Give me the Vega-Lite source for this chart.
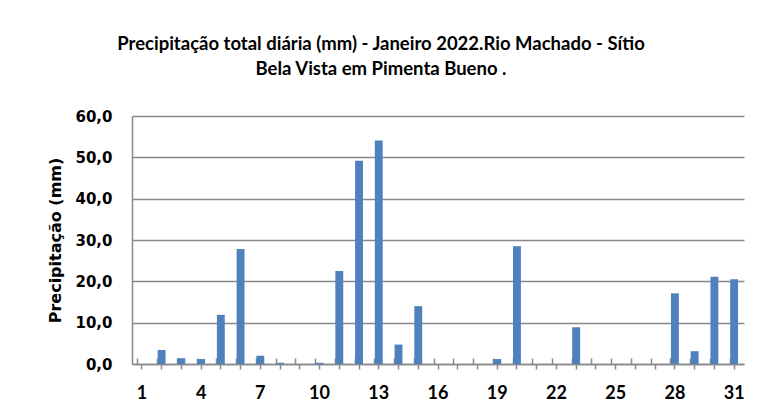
{
  "$schema": "https://vega.github.io/schema/vega-lite/v6.json",
  "autosize": {"type": "none"},
  "width": 612,
  "height": 248,
  "padding": {"left": 132, "top": 116, "right": 19, "bottom": 49},
  "background": "white",
  "title": {
    "text": ["Precipitação total diária (mm) - Janeiro 2022.Rio Machado - Sítio", "Bela Vista em Pimenta Bueno ."],
    "anchor": "middle",
    "frame": "group",
    "dx": -57,
    "font": "Lato",
    "fontSize": 18.5,
    "fontWeight": "bold",
    "color": "#000000",
    "lineHeight": 25,
    "offset": 31
  },
  "data": {
    "values": [
      {"dia": 1, "prec": 0.0},
      {"dia": 2, "prec": 3.4},
      {"dia": 3, "prec": 1.4},
      {"dia": 4, "prec": 1.2},
      {"dia": 5, "prec": 11.9},
      {"dia": 6, "prec": 27.8},
      {"dia": 7, "prec": 2.0},
      {"dia": 8, "prec": 0.3},
      {"dia": 9, "prec": 0.0},
      {"dia": 10, "prec": 0.3},
      {"dia": 11, "prec": 22.5},
      {"dia": 12, "prec": 49.2},
      {"dia": 13, "prec": 54.1},
      {"dia": 14, "prec": 4.7},
      {"dia": 15, "prec": 14.0},
      {"dia": 16, "prec": 0.0},
      {"dia": 17, "prec": 0.0},
      {"dia": 18, "prec": 0.0},
      {"dia": 19, "prec": 1.2},
      {"dia": 20, "prec": 28.5},
      {"dia": 21, "prec": 0.0},
      {"dia": 22, "prec": 0.0},
      {"dia": 23, "prec": 8.9},
      {"dia": 24, "prec": 0.0},
      {"dia": 25, "prec": 0.0},
      {"dia": 26, "prec": 0.0},
      {"dia": 27, "prec": 0.0},
      {"dia": 28, "prec": 17.1},
      {"dia": 29, "prec": 3.1},
      {"dia": 30, "prec": 21.1},
      {"dia": 31, "prec": 20.5}
    ]
  },
  "encoding": {
    "y": {
      "field": "prec",
      "type": "quantitative",
      "scale": {"domain": [0, 60], "nice": false},
      "axis": {
        "title": "Precipitação (mm)",
        "titleFont": "DejaVu Sans",
        "titleFontSize": 16,
        "titleFontWeight": "bold",
        "titleColor": "#000000",
        "titlePadding": 11,
        "values": [0, 10, 20, 30, 40, 50, 60],
        "labelExpr": "replace(format(datum.value, '.1f'), '.', ',')",
        "labelFont": "DejaVu Sans",
        "labelFontSize": 15,
        "labelFontWeight": "bold",
        "labelColor": "#000000",
        "labelPadding": 20,
        "ticks": false,
        "tickSize": 0,
        "domainColor": "#898989",
        "domainWidth": 1.5,
        "grid": true,
        "gridColor": "#898989",
        "gridWidth": 1.5
      }
    }
  },
  "layer": [
    {
      "mark": {"type": "bar", "color": "#4F81BD"},
      "encoding": {
        "x": {
          "field": "dia",
          "type": "ordinal",
          "scale": {"paddingInner": 0.6, "paddingOuter": 0.3},
          "axis": {
            "title": null,
            "orient": "bottom",
            "labelAngle": 0,
            "labelExpr": "(datum.value - 1) % 3 == 0 ? datum.label : ''",
            "labelFont": "Lato",
            "labelFontSize": 18,
            "labelFontWeight": "bold",
            "labelColor": "#000000",
            "labelPadding": 15,
            "tickSize": 5,
            "tickColor": "#898989",
            "tickWidth": 1.5,
            "domainColor": "#898989",
            "domainWidth": 1.5,
            "grid": false
          }
        }
      }
    },
    {
      "mark": {"type": "bar", "color": "#4F81BD", "opacity": 0},
      "encoding": {
        "x": {
          "field": "dia",
          "type": "ordinal",
          "axis": {
            "title": null,
            "orient": "bottom",
            "labels": false,
            "domain": false,
            "bandPosition": 0,
            "tickSize": -6,
            "tickColor": "#898989",
            "tickWidth": 1.5,
            "grid": false
          }
        }
      }
    }
  ],
  "resolve": {"axis": {"x": "independent"}},
  "config": {"view": {"stroke": null}}
}
